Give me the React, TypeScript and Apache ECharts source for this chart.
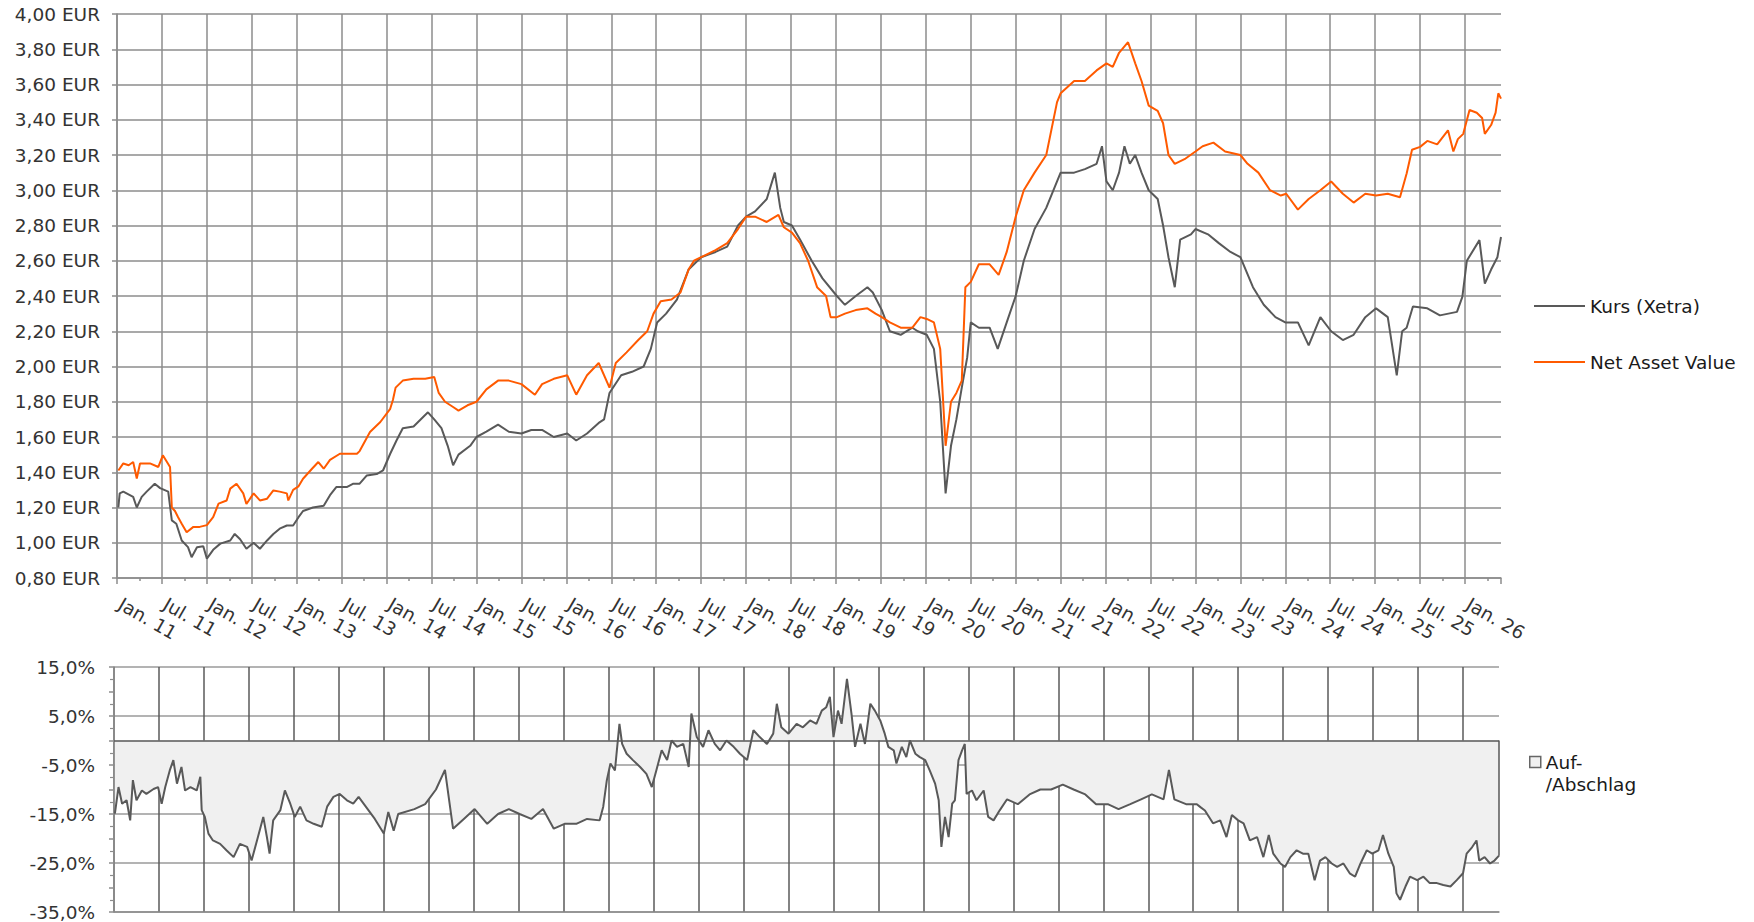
import React, { useEffect, useRef } from "react";
import * as echarts from "echarts";

// x values are decimal years (2011.5 = 1 July 2011)
const kursData: [number, number][] = [
  [2011.015, 1.2], [2011.03, 1.28], [2011.07, 1.29], [2011.18, 1.26], [2011.22, 1.2], [2011.275, 1.26], [2011.33, 1.29],
  [2011.42, 1.335], [2011.48, 1.31], [2011.57, 1.29], [2011.61, 1.127], [2011.66, 1.108], [2011.72, 1.013], [2011.79, 0.975],
  [2011.83, 0.918], [2011.89, 0.975], [2011.96, 0.98], [2012.0, 0.91], [2012.07, 0.96], [2012.15, 0.995], [2012.26, 1.013],
  [2012.31, 1.05], [2012.37, 1.02], [2012.44, 0.966], [2012.52, 1.0], [2012.59, 0.966], [2012.67, 1.013], [2012.74, 1.05],
  [2012.81, 1.08], [2012.89, 1.098], [2012.96, 1.098], [2013.02, 1.145], [2013.07, 1.18], [2013.18, 1.2], [2013.3, 1.21],
  [2013.37, 1.27], [2013.44, 1.316], [2013.556, 1.316], [2013.63, 1.335], [2013.7, 1.335], [2013.78, 1.382], [2013.89, 1.39],
  [2013.96, 1.41], [2014.04, 1.505], [2014.11, 1.58], [2014.18, 1.65], [2014.3, 1.66], [2014.46, 1.74], [2014.53, 1.7],
  [2014.61, 1.65], [2014.68, 1.55], [2014.74, 1.44], [2014.8, 1.5], [2014.93, 1.55], [2015.0, 1.6], [2015.11, 1.63],
  [2015.24, 1.67], [2015.36, 1.63], [2015.5, 1.62], [2015.61, 1.64], [2015.73, 1.64], [2015.86, 1.6], [2016.01, 1.62],
  [2016.11, 1.58], [2016.23, 1.62], [2016.36, 1.68], [2016.42, 1.7], [2016.48, 1.85], [2016.61, 1.95], [2016.73, 1.97],
  [2016.86, 2.0], [2016.94, 2.1], [2017.01, 2.25], [2017.11, 2.3], [2017.23, 2.38], [2017.36, 2.55], [2017.5, 2.62],
  [2017.66, 2.65], [2017.79, 2.68], [2017.91, 2.8], [2018.0, 2.85], [2018.1, 2.88], [2018.23, 2.95], [2018.32, 3.1],
  [2018.38, 2.9], [2018.42, 2.82], [2018.51, 2.8], [2018.6, 2.72], [2018.73, 2.6], [2018.85, 2.5], [2019.01, 2.4],
  [2019.1, 2.35], [2019.22, 2.4], [2019.35, 2.45], [2019.41, 2.42], [2019.51, 2.32], [2019.6, 2.2], [2019.72, 2.18],
  [2019.85, 2.22], [2019.91, 2.2], [2020.01, 2.18], [2020.09, 2.1], [2020.16, 1.8], [2020.22, 1.28], [2020.28, 1.55],
  [2020.34, 1.7], [2020.4, 1.88], [2020.46, 2.05], [2020.5, 2.25], [2020.59, 2.22], [2020.71, 2.22], [2020.8, 2.1],
  [2020.9, 2.25], [2021.0, 2.4], [2021.09, 2.6], [2021.21, 2.78], [2021.34, 2.9], [2021.46, 3.05], [2021.5, 3.1],
  [2021.65, 3.1], [2021.77, 3.12], [2021.9, 3.15], [2021.96, 3.25], [2022.01, 3.05], [2022.08, 3.0], [2022.15, 3.1],
  [2022.21, 3.25], [2022.27, 3.15], [2022.33, 3.2], [2022.4, 3.1], [2022.48, 3.0], [2022.58, 2.95], [2022.64, 2.8],
  [2022.7, 2.62], [2022.77, 2.45], [2022.83, 2.72], [2022.95, 2.75], [2023.0, 2.78], [2023.14, 2.75], [2023.26, 2.7],
  [2023.39, 2.65], [2023.5, 2.62], [2023.64, 2.45], [2023.76, 2.35], [2023.89, 2.28], [2024.0, 2.25], [2024.14, 2.25],
  [2024.26, 2.12], [2024.39, 2.28], [2024.51, 2.2], [2024.64, 2.15], [2024.76, 2.18], [2024.89, 2.28], [2025.01, 2.33],
  [2025.14, 2.28], [2025.24, 1.95], [2025.3, 2.2], [2025.35, 2.22], [2025.42, 2.34], [2025.58, 2.33], [2025.72, 2.29],
  [2025.91, 2.31], [2025.97, 2.395], [2026.02, 2.6], [2026.16, 2.717], [2026.22, 2.47], [2026.29, 2.55], [2026.36, 2.62],
  [2026.4, 2.735],
];

const navData: [number, number][] = [
  [2011.015, 1.41], [2011.07, 1.45], [2011.13, 1.44], [2011.18, 1.458], [2011.22, 1.365], [2011.256, 1.45], [2011.367, 1.45],
  [2011.46, 1.43], [2011.51, 1.496], [2011.59, 1.43], [2011.61, 1.2], [2011.645, 1.18], [2011.68, 1.145], [2011.72, 1.108],
  [2011.775, 1.06], [2011.85, 1.09], [2011.92, 1.09], [2012.0, 1.1], [2012.07, 1.145], [2012.13, 1.222], [2012.22, 1.24],
  [2012.26, 1.307], [2012.33, 1.335], [2012.405, 1.28], [2012.44, 1.22], [2012.52, 1.28], [2012.59, 1.24], [2012.67, 1.25],
  [2012.74, 1.297], [2012.81, 1.29], [2012.89, 1.28], [2012.906, 1.24], [2012.96, 1.3], [2013.02, 1.32], [2013.07, 1.363],
  [2013.17, 1.42], [2013.24, 1.458], [2013.3, 1.42], [2013.37, 1.47], [2013.48, 1.505], [2013.67, 1.505], [2013.7, 1.52],
  [2013.815, 1.628], [2013.93, 1.685], [2014.04, 1.76], [2014.07, 1.81], [2014.1, 1.88], [2014.18, 1.92], [2014.3, 1.93],
  [2014.43, 1.93], [2014.53, 1.94], [2014.58, 1.85], [2014.65, 1.8], [2014.74, 1.77], [2014.8, 1.75], [2014.9, 1.78],
  [2015.0, 1.8], [2015.11, 1.87], [2015.24, 1.92], [2015.36, 1.92], [2015.5, 1.9], [2015.65, 1.84], [2015.73, 1.9],
  [2015.86, 1.93], [2016.01, 1.95], [2016.11, 1.84], [2016.23, 1.95], [2016.36, 2.02], [2016.48, 1.88], [2016.55, 2.02],
  [2016.67, 2.08], [2016.8, 2.15], [2016.9, 2.2], [2016.97, 2.3], [2017.05, 2.37], [2017.17, 2.38], [2017.27, 2.42],
  [2017.36, 2.55], [2017.42, 2.6], [2017.5, 2.62], [2017.66, 2.66], [2017.79, 2.7], [2017.91, 2.78], [2018.0, 2.85],
  [2018.1, 2.85], [2018.23, 2.82], [2018.36, 2.86], [2018.42, 2.79], [2018.51, 2.76], [2018.6, 2.7], [2018.69, 2.6],
  [2018.79, 2.45], [2018.89, 2.4], [2018.94, 2.28], [2019.01, 2.28], [2019.1, 2.3], [2019.22, 2.32], [2019.35, 2.33],
  [2019.44, 2.3], [2019.51, 2.28], [2019.6, 2.25], [2019.72, 2.22], [2019.85, 2.22], [2019.94, 2.28], [2020.01, 2.27],
  [2020.09, 2.25], [2020.16, 2.1], [2020.22, 1.55], [2020.28, 1.8], [2020.34, 1.85], [2020.4, 1.92], [2020.44, 2.45],
  [2020.5, 2.48], [2020.59, 2.58], [2020.71, 2.58], [2020.81, 2.52], [2020.9, 2.65], [2021.0, 2.85], [2021.09, 3.0],
  [2021.21, 3.1], [2021.34, 3.2], [2021.46, 3.5], [2021.5, 3.55], [2021.65, 3.62], [2021.77, 3.62], [2021.9, 3.68],
  [2022.01, 3.72], [2022.08, 3.7], [2022.15, 3.78], [2022.25, 3.84], [2022.33, 3.72], [2022.4, 3.62], [2022.48, 3.48],
  [2022.58, 3.45], [2022.64, 3.38], [2022.7, 3.2], [2022.77, 3.15], [2022.89, 3.18], [2023.0, 3.22], [2023.08, 3.25],
  [2023.2, 3.27], [2023.33, 3.22], [2023.5, 3.2], [2023.58, 3.15], [2023.7, 3.1], [2023.83, 3.0], [2023.95, 2.97],
  [2024.01, 2.98], [2024.14, 2.89], [2024.26, 2.95], [2024.39, 3.0], [2024.51, 3.05], [2024.64, 2.98], [2024.76, 2.93],
  [2024.89, 2.98], [2025.01, 2.97], [2025.14, 2.98], [2025.276, 2.96], [2025.35, 3.095], [2025.41, 3.23], [2025.5, 3.246],
  [2025.58, 3.28], [2025.69, 3.26], [2025.81, 3.34], [2025.87, 3.22], [2025.92, 3.29], [2025.98, 3.32], [2026.05, 3.455],
  [2026.13, 3.44], [2026.19, 3.41], [2026.22, 3.32], [2026.29, 3.37], [2026.34, 3.44], [2026.37, 3.55], [2026.4, 3.52],
];

// premium / discount of the share price to NAV, in %
const premiumData: [number, number][] = [
  [2011.01, -14.9], [2011.05, -9.5], [2011.09, -12.9], [2011.14, -12.2], [2011.18, -16.3], [2011.21, -8.1], [2011.25, -12.2],
  [2011.31, -10.2], [2011.36, -10.9], [2011.44, -9.9], [2011.49, -9.5], [2011.53, -12.9], [2011.57, -9.5], [2011.62, -6.1],
  [2011.66, -4.0], [2011.7, -8.8], [2011.75, -5.4], [2011.79, -10.2], [2011.85, -9.5], [2011.92, -10.2], [2011.96, -7.4],
  [2011.975, -14.2], [2012.01, -15.6], [2012.05, -19.0], [2012.1, -20.4], [2012.18, -21.1], [2012.25, -22.4], [2012.33, -23.8],
  [2012.4, -21.1], [2012.48, -21.7], [2012.53, -24.5], [2012.59, -20.4], [2012.66, -15.6], [2012.7, -19.7], [2012.73, -23.1],
  [2012.77, -16.3], [2012.85, -14.2], [2012.9, -10.2], [2012.96, -12.9], [2013.01, -15.6], [2013.07, -13.5], [2013.14, -16.3],
  [2013.22, -17.0], [2013.31, -17.6], [2013.37, -13.5], [2013.44, -11.5], [2013.51, -10.9], [2013.59, -12.2], [2013.66, -12.9],
  [2013.72, -11.5], [2013.9, -16], [2014.0, -19.0], [2014.05, -14.6], [2014.11, -18.4], [2014.16, -15.0], [2014.34, -14],
  [2014.46, -13], [2014.58, -10], [2014.68, -6], [2014.77, -18], [2014.89, -16], [2015.01, -14], [2015.15, -17],
  [2015.27, -15], [2015.39, -14], [2015.51, -15], [2015.64, -16], [2015.77, -14], [2015.89, -18], [2016.01, -17],
  [2016.14, -17], [2016.26, -16], [2016.4, -16.3], [2016.44, -13.5], [2016.48, -8.1], [2016.52, -4.7], [2016.57, -6.1],
  [2016.62, 3.4], [2016.65, -0.7], [2016.7, -2.7], [2016.77, -4.0], [2016.85, -5.4], [2016.92, -6.8], [2016.98, -9.5],
  [2017.03, -6.1], [2017.09, -2.0], [2017.15, -4.0], [2017.2, 0.0], [2017.26, -1.3], [2017.33, -0.7], [2017.39, -5.4],
  [2017.42, 5.5], [2017.48, 0.7], [2017.55, -1.3], [2017.61, 2.1], [2017.68, -0.7], [2017.74, -2.0], [2017.81, 0],
  [2017.89, -1.3], [2017.96, -2.7], [2018.04, -4.0], [2018.11, 2.1], [2018.18, 0.7], [2018.26, -0.7], [2018.33, 1.4],
  [2018.37, 7.5], [2018.42, 2.7], [2018.5, 1.4], [2018.59, 3.4], [2018.66, 2.7], [2018.74, 4.1], [2018.81, 3.4],
  [2018.87, 6.1], [2018.92, 6.8], [2018.96, 8.9], [2019.0, 0.7], [2019.05, 6.1], [2019.09, 3.4], [2019.15, 12.6],
  [2019.2, 5.5], [2019.24, -1.3], [2019.3, 3.4], [2019.35, -0.7], [2019.41, 7.5], [2019.46, 6.1], [2019.52, 4.1],
  [2019.57, 1.4], [2019.61, -1.3], [2019.67, -2.0], [2019.7, -4.7], [2019.76, -1.3], [2019.81, -3.4], [2019.85, 0],
  [2019.91, -2.7], [2019.96, -3.4], [2020.02, -4.0], [2020.07, -6.1], [2020.13, -8.8], [2020.17, -12.2], [2020.2, -21.7],
  [2020.24, -15.6], [2020.28, -19.7], [2020.32, -12.9], [2020.35, -12.2], [2020.39, -4.0], [2020.43, -2.0], [2020.46, -0.7],
  [2020.48, -10.9], [2020.54, -10.2], [2020.59, -12.2], [2020.67, -10.2], [2020.72, -15.6], [2020.78, -16.3], [2020.85, -14.2],
  [2020.93, -12], [2021.05, -13], [2021.18, -11], [2021.3, -10], [2021.42, -10], [2021.55, -9], [2021.67, -10],
  [2021.8, -11], [2021.92, -13], [2022.05, -13], [2022.17, -14], [2022.3, -13], [2022.42, -12], [2022.54, -11],
  [2022.67, -12], [2022.73, -6], [2022.79, -12], [2022.92, -13], [2023.04, -13], [2023.08, -13.6], [2023.13, -14.3],
  [2023.22, -16.9], [2023.3, -16.3], [2023.37, -19.7], [2023.43, -15.2], [2023.5, -16.3], [2023.56, -16.9], [2023.63, -20.4],
  [2023.71, -19.7], [2023.78, -23.8], [2023.84, -19.3], [2023.89, -23.1], [2023.97, -25.1], [2024.02, -25.8], [2024.08, -23.8],
  [2024.15, -22.4], [2024.22, -23.1], [2024.28, -23.1], [2024.35, -28.5], [2024.41, -24.5], [2024.47, -23.8], [2024.54, -25.1],
  [2024.6, -25.8], [2024.67, -25.1], [2024.74, -27.1], [2024.8, -27.8], [2024.86, -25.1], [2024.93, -22.4], [2024.99, -23.1],
  [2025.06, -22.4], [2025.11, -19.3], [2025.17, -23.1], [2025.23, -25.8], [2025.26, -31.2], [2025.3, -32.5], [2025.36, -29.8],
  [2025.41, -27.8], [2025.49, -28.5], [2025.56, -27.8], [2025.63, -29.1], [2025.71, -29.1], [2025.78, -29.5], [2025.86, -29.8],
  [2025.93, -28.5], [2026.0, -27.1], [2026.04, -23.1], [2026.1, -21.8], [2026.15, -20.4], [2026.18, -24.5], [2026.24, -23.8],
  [2026.3, -25.1], [2026.35, -24.5], [2026.4, -23.5],
];

const monthNames = ["Jan.", "Jul."];
const X_MIN = 2011;
const X_MAX = 2026.4;
const PRICE_TICKS = { min: 0.8, max: 4.0, step: 0.2 };
const PCT_TICKS = { min: -35, max: 15, step: 5 };

const FONT = "'DejaVu Sans', Verdana, sans-serif";
const GRID_GREY = "#8c8c8c";
const DARK = "#595959";

function dateLabel(v: number): string {
  const year = Math.floor(v + 1e-6);
  const frac = v - year;
  let m = -1;
  if (Math.abs(frac) < 0.01) m = 0;
  else if (Math.abs(frac - 0.5) < 0.01) m = 1;
  if (m < 0) return "";
  return monthNames[m] + " " + String(year % 100).padStart(2, "0");
}

export default function App() {
  const ref = useRef<HTMLDivElement>(null);
  useEffect(() => {
    if (!ref.current) return;
    const chart = echarts.init(ref.current, undefined, { renderer: "svg" });
    const last = premiumData[premiumData.length - 1];
    const axisText = { color: "#333333", fontSize: 18.5, fontFamily: FONT };
    chart.setOption({
      animation: false,
      backgroundColor: "#ffffff",
      textStyle: { fontFamily: FONT },
      grid: [
        { left: 117, top: 14, width: 1384, height: 564 },
        { left: 114, top: 667, width: 1385, height: 245 },
      ],
      legend: [
        {
          data: [{ name: "Kurs (Xetra)" }, { name: "Net Asset Value" }],
          orient: "vertical",
          left: 1534,
          top: 295,
          padding: 0,
          icon: "rect",
          itemWidth: 51,
          itemHeight: 2,
          itemGap: 34,
          selectedMode: false,
          textStyle: { fontSize: 18.5, color: "#1a1a1a", lineHeight: 22, fontFamily: FONT },
        },
        {
          data: [
            {
              name: "Auf-/Abschlag",
              itemStyle: { color: "#f0f0f0", borderColor: "#666666", borderWidth: 1.5 },
            },
          ],
          orient: "vertical",
          left: 1529,
          top: 729,
          padding: 0,
          icon: "rect",
          itemWidth: 11,
          itemHeight: 11,
          selectedMode: false,
          formatter: () => "\nAuf-\n/Abschlag",
          textStyle: {
            fontSize: 18.5,
            color: "#1a1a1a",
            lineHeight: 22,
            fontFamily: FONT,
          },
        },
      ],
      xAxis: [
        {
          gridIndex: 0,
          type: "value",
          min: X_MIN,
          max: X_MAX,
          interval: 0.5,
          axisLine: { show: true, onZero: false, lineStyle: { color: GRID_GREY, width: 1.5 } },
          axisTick: { show: true, length: 6, lineStyle: { color: GRID_GREY, width: 1.5 } },
          minorTick: { show: true, splitNumber: 2, length: 3, lineStyle: { color: GRID_GREY, width: 1.5 } },
          splitLine: { show: true, showMaxLine: false, lineStyle: { color: GRID_GREY, width: 1.5 } },
          axisLabel: {
            ...axisText,
            formatter: dateLabel,
            rotate: -30,
            align: "left",
            verticalAlign: "top",
            margin: 12,
            padding: [0, 0, 0, 9],
            showMaxLabel: false,
          },
        },
        {
          gridIndex: 1,
          type: "value",
          min: X_MIN,
          max: X_MAX,
          interval: 0.5,
          axisLine: { show: true, onZero: false, lineStyle: { color: GRID_GREY, width: 1.5 } },
          axisTick: { show: false },
          axisLabel: { show: false },
          splitLine: { show: true, showMaxLine: false, lineStyle: { color: "#5a5a5a", width: 1.5 } },
        },
      ],
      yAxis: [
        {
          gridIndex: 0,
          type: "value",
          min: PRICE_TICKS.min,
          max: PRICE_TICKS.max,
          interval: PRICE_TICKS.step,
          axisLine: { show: true, onZero: false, lineStyle: { color: GRID_GREY, width: 1.5 } },
          axisTick: { show: true, length: 5, lineStyle: { color: GRID_GREY, width: 1.5 } },
          splitLine: { show: true, lineStyle: { color: GRID_GREY, width: 1.5 } },
          axisLabel: {
            ...axisText,
            margin: 17,
            formatter: (v: number) => v.toFixed(2).replace(".", ",") + " EUR",
          },
        },
        {
          gridIndex: 1,
          type: "value",
          min: PCT_TICKS.min,
          max: PCT_TICKS.max,
          interval: PCT_TICKS.step,
          axisLine: { show: true, onZero: false, lineStyle: { color: GRID_GREY, width: 1.5 } },
          axisTick: { show: true, length: 5, lineStyle: { color: GRID_GREY, width: 1.5 } },
          minorTick: { show: true, splitNumber: 2, length: 4, lineStyle: { color: GRID_GREY, width: 1.2 } },
          splitLine: { show: true, lineStyle: { color: ["#9a9a9a", "rgba(0,0,0,0)"], width: 1.5 } },
          axisLabel: {
            ...axisText,
            margin: 19,
            formatter: (v: number) => {
              const r = Math.round(v);
              return Math.abs(r) % 10 === 5 ? r.toFixed(1).replace(".", ",") + "%" : "";
            },
          },
        },
      ],
      series: [
        {
          name: "Kurs (Xetra)",
          type: "line",
          xAxisIndex: 0,
          yAxisIndex: 0,
          data: kursData,
          showSymbol: false,
          symbol: "none",
          lineStyle: { color: DARK, width: 2 },
          itemStyle: { color: DARK },
          z: 3,
        },
        {
          name: "Net Asset Value",
          type: "line",
          xAxisIndex: 0,
          yAxisIndex: 0,
          data: navData,
          showSymbol: false,
          symbol: "none",
          lineStyle: { color: "#ff5a00", width: 2 },
          itemStyle: { color: "#ff5a00" },
          z: 4,
        },
        {
          name: "Auf-/Abschlag",
          type: "line",
          xAxisIndex: 1,
          yAxisIndex: 1,
          data: premiumData,
          showSymbol: false,
          symbol: "none",
          lineStyle: { color: DARK, width: 2 },
          itemStyle: { color: DARK },
          areaStyle: { color: "#f0f0f0", opacity: 1 },
          markLine: {
            silent: true,
            symbol: ["none", "none"],
            label: { show: false },
            lineStyle: { color: DARK, width: 1.5, type: "solid" },
            data: [
              { yAxis: 0 },
              [{ coord: [last[0], 0] }, { coord: [last[0], last[1]] }],
            ],
          },
        },
      ],
    });
    return () => chart.dispose();
  }, []);
  return (
    <div
      ref={ref}
      style={{ position: "fixed", left: 0, top: 0, width: 1754, height: 922, background: "#fff" }}
    />
  );
}
